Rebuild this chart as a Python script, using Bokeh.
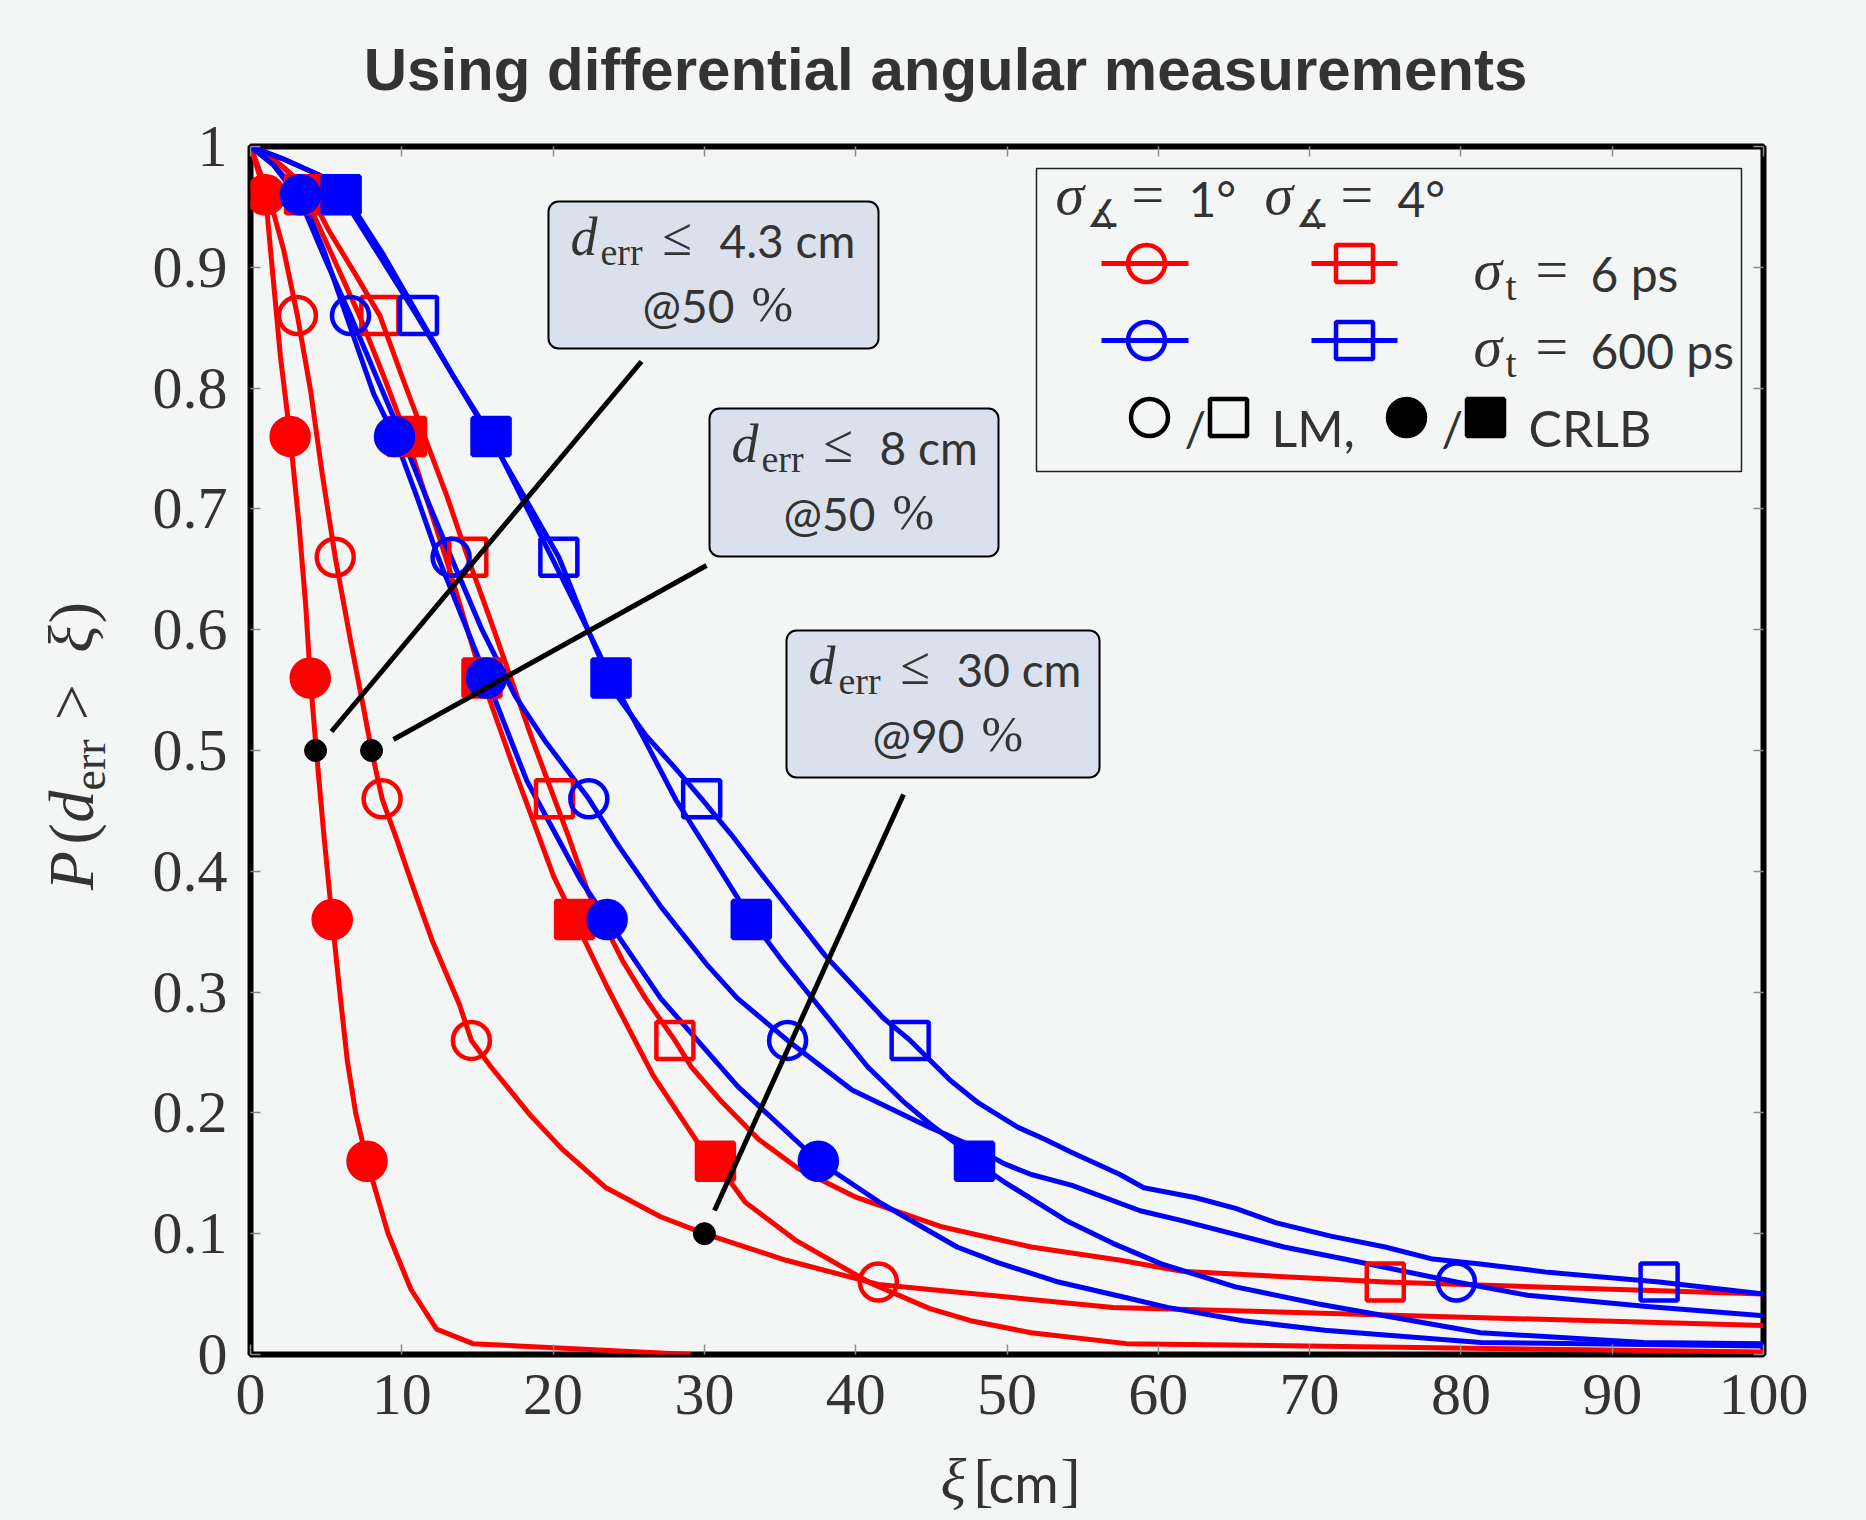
from math import pi
from bokeh.plotting import figure
from bokeh.layouts import column, row
from bokeh.models import Label, BoxAnnotation, FixedTicker, LinearAxis, CustomJSTickFormatter
from bokeh.embed import file_html
from bokeh.resources import INLINE

# ---------------------------------------------------------------- data
x_ticks = [0, 10, 20, 30, 40, 50, 60, 70, 80, 90, 100]
y_ticks = [0, 0.1, 0.2, 0.3, 0.4, 0.5, 0.6, 0.7, 0.8, 0.9, 1]

crlb_levels = [0.96, 0.76, 0.56, 0.36, 0.16]
lm_levels = [0.86, 0.66, 0.46, 0.26, 0.06]

# sigma_angle = 1 deg, sigma_t = 6 ps, CRLB (red filled circles)
r1_crlb_x = [0, 0.99, 1.43, 1.98, 2.62, 3.2, 3.65, 3.95, 4.35, 4.85, 5.4, 5.9, 6.4, 6.95, 7.7, 9.1, 10.6, 12.3, 14.7, 29.1]
r1_crlb_y = [1, 0.96, 0.90, 0.826, 0.76, 0.688, 0.62, 0.56, 0.50, 0.43, 0.36, 0.30, 0.243, 0.20, 0.16, 0.10, 0.054, 0.021, 0.009, 0.0]
r1_crlb_mx = [0.99, 2.62, 3.95, 5.4, 7.7]

# sigma_angle = 1 deg, sigma_t = 6 ps, LM (red open circles)
r1_lm_x = [0, 1.2, 2.2, 3.1, 3.97, 4.74, 5.6, 6.61, 7.4, 8.0, 8.7, 9.65, 10.8, 12.0, 13.8, 14.6, 15.9, 18.5, 20.6, 23.5, 27.1, 30.0, 35.4, 41.5, 57.0, 100]
r1_lm_y = [1, 0.96, 0.914, 0.86, 0.798, 0.729, 0.66, 0.591, 0.54, 0.50, 0.46, 0.427, 0.385, 0.343, 0.29, 0.26, 0.238, 0.198, 0.17, 0.138, 0.114, 0.10, 0.078, 0.058, 0.039, 0.024]
r1_lm_mx = [3.1, 5.6, 8.7, 14.6, 41.5]

# sigma_angle = 4 deg, sigma_t = 6 ps, CRLB (red filled squares)
r4_crlb_x = [0, 1.5, 2.8, 3.57, 5.4, 7.2, 8.8, 10.31, 11.6, 12.9, 14.1, 15.3, 17.5, 20.03, 21.42, 23.58, 26.61, 29.64, 30.73, 32.7, 36.1, 41.0, 44.9, 47.6, 51.6, 57.9, 100]
r4_crlb_y = [1, 0.99, 0.975, 0.96, 0.91, 0.86, 0.81, 0.76, 0.71, 0.66, 0.61, 0.56, 0.482, 0.396, 0.36, 0.304, 0.231, 0.174, 0.16, 0.126, 0.094, 0.059, 0.038, 0.028, 0.018, 0.009, 0.002]
r4_crlb_mx = [3.57, 10.31, 15.3, 21.42, 30.73]

# sigma_angle = 4 deg, sigma_t = 6 ps, LM (red open squares)
r4_lm_x = [0, 2.0, 3.75, 5.2, 6.9, 8.55, 10.0, 11.5, 13.0, 14.36, 15.8, 17.2, 18.6, 20.09, 21.04, 22.3, 24.59, 26.1, 28.05, 29.14, 31.16, 33.6, 36.2, 40.05, 45.6, 51.6, 57.5, 61.5, 75.0, 100]
r4_lm_y = [1, 0.985, 0.965, 0.93, 0.895, 0.86, 0.81, 0.76, 0.71, 0.66, 0.61, 0.56, 0.51, 0.46, 0.428, 0.383, 0.326, 0.295, 0.26, 0.238, 0.209, 0.178, 0.154, 0.13, 0.106, 0.089, 0.078, 0.069, 0.06, 0.05]
r4_lm_mx = [8.55, 14.36, 20.09, 28.05, 75.0]

# sigma_angle = 1 deg, sigma_t = 600 ps, CRLB (blue filled circles)
b1_crlb_x = [0, 1.5, 3.3, 4.85, 6.61, 8.15, 9.52, 11.0, 12.4, 14.0, 15.6, 18.26, 21.8, 23.57, 27.1, 32.2, 37.53, 41.7, 46.7, 49.4, 53.4, 57.9, 60.6, 65.6, 71.0, 81.3, 100]
b1_crlb_y = [1, 0.985, 0.96, 0.914, 0.85, 0.795, 0.76, 0.71, 0.66, 0.61, 0.56, 0.475, 0.393, 0.36, 0.295, 0.222, 0.16, 0.125, 0.089, 0.076, 0.06, 0.047, 0.039, 0.028, 0.02, 0.01, 0.007]
b1_crlb_mx = [3.3, 9.52, 15.6, 23.57, 37.53]

# sigma_angle = 1 deg, sigma_t = 600 ps, LM (blue open circles)
b1_lm_x = [0, 1.5, 3.3, 5.0, 6.61, 8.3, 10.0, 11.6, 13.26, 15.3, 17.5, 19.52, 22.36, 24.33, 27.11, 30.15, 32.17, 35.5, 39.76, 44.9, 47.8, 49.8, 51.6, 54.3, 58.8, 61.5, 68.3, 72.3, 79.7, 84.4, 92.1, 100]
b1_lm_y = [1, 0.985, 0.955, 0.905, 0.86, 0.81, 0.76, 0.71, 0.66, 0.60, 0.545, 0.507, 0.46, 0.421, 0.371, 0.323, 0.295, 0.26, 0.219, 0.188, 0.172, 0.158, 0.149, 0.14, 0.119, 0.111, 0.089, 0.079, 0.06, 0.049, 0.04, 0.032]
b1_lm_mx = [6.61, 13.26, 22.36, 35.5, 79.7]

# sigma_angle = 4 deg, sigma_t = 600 ps, CRLB (blue filled squares)
b4_crlb_x = [0, 2.1, 4.6, 5.99, 8.5, 11.0, 13.4, 15.9, 17.9, 19.9, 21.9, 23.83, 26.0, 28.12, 30.6, 33.1, 35.2, 37.25, 40.8, 43.1, 44.9, 46.7, 47.85, 49.8, 53.9, 57.0, 60.2, 65.1, 70.5, 76.8, 81.3, 92.1, 100]
b4_crlb_y = [1, 0.99, 0.976, 0.96, 0.91, 0.86, 0.81, 0.76, 0.71, 0.66, 0.61, 0.56, 0.51, 0.459, 0.41, 0.36, 0.325, 0.293, 0.238, 0.21, 0.191, 0.174, 0.16, 0.143, 0.111, 0.092, 0.075, 0.056, 0.042, 0.028, 0.018, 0.01, 0.009]
b4_crlb_mx = [5.99, 15.9, 23.83, 33.1, 47.85]

# sigma_angle = 4 deg, sigma_t = 600 ps, LM (blue open squares)
b4_lm_x = [0, 2.1, 4.6, 6.5, 8.8, 11.1, 13.4, 15.8, 18.1, 20.38, 22.3, 24.08, 26.1, 28.1, 29.82, 31.8, 33.69, 38.0, 41.79, 43.6, 46.24, 48.03, 50.73, 52.53, 54.32, 57.47, 59.04, 62.41, 65.11, 67.8, 71.4, 74.99, 78.14, 81.28, 85.77, 93.1, 100]
b4_lm_y = [1, 0.99, 0.976, 0.955, 0.91, 0.86, 0.81, 0.76, 0.71, 0.66, 0.60, 0.548, 0.513, 0.485, 0.46, 0.43, 0.399, 0.33, 0.279, 0.26, 0.227, 0.209, 0.188, 0.178, 0.167, 0.149, 0.138, 0.13, 0.121, 0.109, 0.098, 0.089, 0.079, 0.075, 0.068, 0.06, 0.05]
b4_lm_mx = [11.1, 20.38, 29.82, 43.6, 93.1]

# annotated operating points
ann_x = [4.3, 8.0, 30.0]
ann_y = [0.5, 0.5, 0.1]
ann_values = ["4.3 cm", "8 cm", "30 cm"]
ann_levels = ["@50", "@50", "@90"]

# ---------------------------------------------------------------- style / layout
BG = "#f4f6f5"
RED = "#ff0000"
BLUE = "#0000ff"
TXT = "#333333"
SERIF = "Liberation Serif"
SANS = "Lato"
BOXFILL = "#dae1ed"
MK = 37
LW = 5
MLW = 4.5

TOTAL_W = 1866
TOTAL_H = 1520
TITLE_H = 110          # page rows 0..110: title
MID_B = 1446           # page rows 110..1446: plot
LEFT_W = 130           # page columns 0..130: y-axis title
F_L, F_R, F_T, F_B = 250, 1763, 146, 1354   # plot frame, page pixels

MID_H = MID_B - TITLE_H
MAIN_W = TOTAL_W - LEFT_W

p = figure(width=MAIN_W, height=MID_H, x_range=(0, 100), y_range=(0, 1),
           output_backend="svg", toolbar_location=None, title_location=None,
           min_border_left=F_L - LEFT_W, min_border_right=TOTAL_W - F_R,
           min_border_top=F_T - TITLE_H, min_border_bottom=MID_B - F_B,
           background_fill_color=BG, border_fill_color=BG,
           outline_line_color="black", outline_line_width=6)
p.grid.visible = False

PX_W = (F_R - F_L) / 100.0
PX_H = (F_B - F_T) / 1.0
def dx(X):
    return (X - F_L) / PX_W
def dy(Y):
    return (F_B - Y) / PX_H

def shift(size):
    # offset of the alphabetic anchor seen in the svg output
    return 0.42 * size

# axes
bottom_ax = p.xaxis[0]
left_ax = p.yaxis[0]
bottom_ax.ticker = FixedTicker(ticks=x_ticks)
left_ax.ticker = FixedTicker(ticks=y_ticks)
left_ax.formatter = CustomJSTickFormatter(code="return (tick == 0 || tick == 1) ? tick.toFixed(0) : tick.toFixed(1);")
top_ax = LinearAxis(ticker=FixedTicker(ticks=x_ticks), formatter=CustomJSTickFormatter(code="return '';"))
right_ax = LinearAxis(ticker=FixedTicker(ticks=y_ticks), formatter=CustomJSTickFormatter(code="return '';"))
p.add_layout(top_ax, "above")
p.add_layout(right_ax, "right")
for ax in [bottom_ax, left_ax, top_ax, right_ax]:
    ax.axis_line_color = None
    ax.major_tick_in = 10
    ax.major_tick_out = 0
    ax.major_tick_line_color = "#8c8c8c"
    ax.major_tick_line_width = 1.5
    ax.minor_tick_line_color = None
    ax.major_label_text_font = SERIF
    ax.major_label_text_font_size = "60px"
    ax.major_label_text_color = TXT
top_ax.major_label_text_font_size = "1px"
right_ax.major_label_text_font_size = "1px"
bottom_ax.major_label_standoff = 20
left_ax.major_label_standoff = 23

# curves
series = [
    (r1_crlb_x, r1_crlb_y, r1_crlb_mx, crlb_levels, RED, "circle", True),
    (r1_lm_x, r1_lm_y, r1_lm_mx, lm_levels, RED, "circle", False),
    (r4_crlb_x, r4_crlb_y, r4_crlb_mx, crlb_levels, RED, "square", True),
    (r4_lm_x, r4_lm_y, r4_lm_mx, lm_levels, RED, "square", False),
    (b1_crlb_x, b1_crlb_y, b1_crlb_mx, crlb_levels, BLUE, "circle", True),
    (b1_lm_x, b1_lm_y, b1_lm_mx, lm_levels, BLUE, "circle", False),
    (b4_crlb_x, b4_crlb_y, b4_crlb_mx, crlb_levels, BLUE, "square", True),
    (b4_lm_x, b4_lm_y, b4_lm_mx, lm_levels, BLUE, "square", False),
]
for cx, cy, mx, my, col, mk, filled in series:
    p.line(cx, cy, line_color=col, line_width=LW, line_join="round")
for cx, cy, mx, my, col, mk, filled in series:
    p.scatter(mx, my, marker=mk, size=MK, line_color=col, line_width=MLW,
              fill_color=col if filled else None)

# callouts: boxes (page px), leader lines and marked points
boxes = [(548, 201, 878, 348), (709, 408, 998, 556), (786, 630, 1099, 777)]
leaders = [(331, 731, 641, 361), (393, 739, 706, 565), (714, 1210, 903, 794)]
p.segment(x0=[dx(l[0]) for l in leaders], y0=[dy(l[1]) for l in leaders],
          x1=[dx(l[2]) for l in leaders], y1=[dy(l[3]) for l in leaders],
          line_color="black", line_width=5)
p.scatter(ann_x, ann_y, marker="circle", size=22, color="black")

def txt(fig, x, y, s, font, size, style="normal", align="left", angle=0.0):
    fig.add_layout(Label(x=x, y=y, text=s, text_font=font,
                         text_font_size=f"{size}px", text_font_style=style,
                         text_color=TXT, text_align=align,
                         text_baseline="alphabetic", angle=angle))

def mtxt(X, Y, s, font, size, style="normal", align="left"):
    txt(p, dx(X), dy(Y - shift(size)), s, font, size, style, align)

for (l, t, r, b) in boxes:
    p.add_layout(BoxAnnotation(left=dx(l), right=dx(r), top=dy(t), bottom=dy(b),
                               fill_color=BOXFILL, fill_alpha=1.0,
                               line_color="black", line_alpha=1.0, line_width=2,
                               border_radius=10))

# (d-x, err-x, <=-x, value-x, baseline1, at-x, pct-x, baseline2)
box_text = [(570, 600, 662, 719, 259, 642, 751, 324),
            (731, 761, 823, 879, 466, 783, 892, 532),
            (808, 838, 900, 956, 688, 872, 981, 754)]
for (xd, xe, xl, xv, b1, xa, xp, b2), val, lev in zip(box_text, ann_values, ann_levels):
    mtxt(xd, b1, "d", SERIF, 54, "italic")
    mtxt(xe, b1 + 8, "err", SERIF, 38)
    mtxt(xl, b1, "\u2264", SERIF, 54)
    mtxt(xv, b1, val, SANS, 46)
    mtxt(xa, b2, lev, SANS, 46)
    mtxt(xp, b2, "%", SERIF, 50)

# legend (manual layout, page px)
p.add_layout(BoxAnnotation(left=dx(1036), right=dx(1741), top=dy(168), bottom=dy(471),
                           fill_color=None, fill_alpha=0.0, line_color="#222222",
                           line_alpha=1.0, line_width=1.5))
leg_keys = [(1101, 1188, 1146, 263, RED, "circle"), (1311, 1397, 1354, 263, RED, "square"),
            (1101, 1188, 1146, 340, BLUE, "circle"), (1311, 1397, 1354, 340, BLUE, "square")]
for x0, x1, xc, yc, col, mk in leg_keys:
    p.line([dx(x0), dx(x1)], [dy(yc), dy(yc)], line_color=col, line_width=LW)
    p.scatter([dx(xc)], [dy(yc)], marker=mk, size=MK, line_color=col, line_width=MLW, fill_color=None)
for xc, mk, filled in [(1149, "circle", False), (1228, "square", False),
                       (1406, "circle", True), (1485, "square", True)]:
    p.scatter([dx(xc)], [dy(417)], marker=mk, size=MK, line_color="black", line_width=MLW,
              fill_color="black" if filled else None)

for xs, deg in [(1055, "1\u00b0"), (1264, "4\u00b0")]:
    mtxt(xs, 218, "\u03c3", SERIF, 58, "italic")
    mtxt(xs + 31, 229, "\u2221", "DejaVu Sans", 38)
    mtxt(xs + 76, 218, "=", SERIF, 58)
    mtxt(xs + 133, 218, deg, SANS, 48)
for base, val in [(293, "6 ps"), (370, "600 ps")]:
    mtxt(1473, base, "\u03c3", SERIF, 58, "italic")
    mtxt(1505, base + 10, "t", SERIF, 40)
    mtxt(1535, base, "=", SERIF, 58)
    mtxt(1590, base, val, SANS, 48)
mtxt(1184, 448, "/", SANS, 48)
mtxt(1271, 448, "LM,", SANS, 50)
mtxt(1441, 448, "/", SANS, 48)
mtxt(1528, 448, "CRLB", SANS, 50)

# ---------------------------------------------------------------- text strips
def strip(w, h):
    return figure(width=w, height=h, x_range=(0, w), y_range=(h, 0),
                  x_axis_type=None, y_axis_type=None, output_backend="svg",
                  toolbar_location=None, title_location=None, min_border=0,
                  background_fill_color=BG, border_fill_color=BG, outline_line_color=None)

# title strip
title_fig = strip(TOTAL_W, TITLE_H)
txt(title_fig, 945, 94 - shift(60), "Using differential angular measurements",
    "Liberation Sans", 60, "bold", align="center")

# y-axis title strip (rotated pieces; page positions of each piece's start)
ylab_fig = strip(LEFT_W, MID_H)
A = pi / 2
YS = 0.952
for X, Y, s, size, style in [(98, 893, "P", 64, "italic"), (98, 845, "(", 64, "normal"),
                             (98, 822, "d", 64, "italic"), (108, 788, "err", 46, "normal"),
                             (98, 714, ">", 64, "normal"), (98, 643, "\u03be", 64, "italic"),
                             (98, 612, ")", 64, "normal")]:
    txt(ylab_fig, X - shift(size), (Y - TITLE_H) / YS, s, SERIF, size, style, angle=A)

# x-axis title strip
xlab_fig = strip(TOTAL_W, TOTAL_H - MID_B)
for X, s, font, size in [(940, "\u03be", SERIF, 60), (973, "[", SERIF, 60),
                         (988, "cm", SANS, 54), (1060, "]", SERIF, 60)]:
    txt(xlab_fig, X, 1505 - MID_B - shift(size), s, font, size,
        "italic" if s == "\u03be" else "normal")

mid_row = row(ylab_fig, p, styles={"background-color": BG})
layout = column(title_fig, mid_row, xlab_fig, styles={"background-color": BG})
open("out.html", "w").write(file_html(layout, INLINE))
